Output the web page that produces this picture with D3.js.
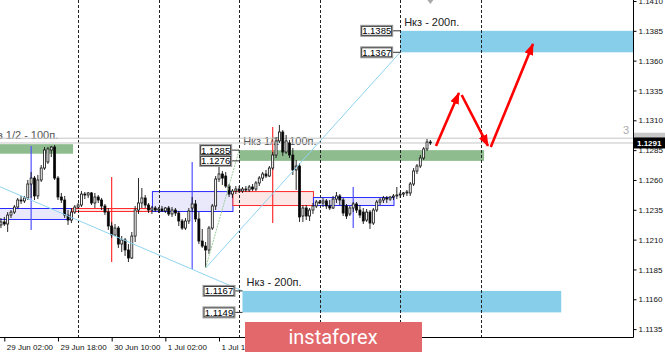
<!DOCTYPE html>
<html>
<head>
<meta charset="utf-8">
<script src="https://cdn.jsdelivr.net/npm/d3@7"></script>
<style>
  body { margin: 0; background: #fff; }
  svg { display: block; font-family: "Liberation Sans", Arial, sans-serif; }
</style>
</head>
<body>
<svg id="chart" width="665" height="353"></svg>
<script>
// EURUSD H1, first bar 29 Jun 01:00, one bar per hour
var firstBar = "2020-06-29 01:00";

var open = [
  1.12223,1.12248,1.12231,1.12306,1.12331,1.12373,1.12432,1.12424,1.12449,1.12566,
  1.12616,1.12466,1.12600,1.12700,1.12751,1.12851,1.12876,1.12616,1.12457,1.12432,
  1.12306,1.12264,1.12331,1.12373,1.12390,1.12482,1.12474,1.12491,1.12407,1.12457,
  1.12432,1.12382,1.12331,1.12214,1.12139,1.12197,1.12063,1.12097,1.12013,1.11946,
  1.12130,1.12348,1.12407,1.12449,1.12390,1.12348,1.12365,1.12348,1.12357,1.12340,
  1.12365,1.12315,1.12348,1.12323,1.12256,1.12197,1.12256,1.12365,1.12399,1.12273,
  1.12088,1.12046,1.12013,1.12197,1.12382,1.12608,1.12650,1.12633,1.12549,1.12482,
  1.12507,1.12524,1.12507,1.12524,1.12516,1.12541,1.12524,1.12575,1.12616,1.12650,
  1.12633,1.12700,1.12809,1.12927,1.13002,1.12834,1.12910,1.12809,1.12684,1.12717,
  1.12298,1.12365,1.12298,1.12348,1.12382,1.12415,1.12407,1.12424,1.12382,1.12365,
  1.12440,1.12466,1.12432,1.12382,1.12315,1.12365,1.12399,1.12348,1.12331,1.12264,
  1.12331,1.12239,1.12348,1.12415,1.12432,1.12449,1.12440,1.12457,1.12466,1.12474,
  1.12482,1.12491,1.12491,1.12566,1.12675,1.12717,1.12784,1.12860,1.12918
];
var high = [
  1.12281,1.12290,1.12331,1.12348,1.12390,1.12449,1.12466,1.12466,1.12600,1.12667,
  1.12633,1.12642,1.12725,1.12876,1.12876,1.12885,1.12893,1.12633,1.12491,1.12466,
  1.12348,1.12365,1.12390,1.12407,1.12507,1.12499,1.12499,1.12499,1.12491,1.12474,
  1.12449,1.12399,1.12365,1.12248,1.12231,1.12214,1.12130,1.12114,1.12063,1.12164,
  1.12382,1.12616,1.12533,1.12474,1.12407,1.12382,1.12382,1.12373,1.12382,1.12373,
  1.12382,1.12373,1.12365,1.12340,1.12273,1.12281,1.12365,1.12457,1.12432,1.12331,
  1.12189,1.12080,1.12214,1.12399,1.12633,1.12742,1.12675,1.12667,1.12566,1.12524,
  1.12549,1.12549,1.12541,1.12549,1.12558,1.12566,1.12591,1.12633,1.12667,1.12684,
  1.12717,1.12834,1.12952,1.13061,1.13019,1.12977,1.12935,1.12868,1.12767,1.12742,
  1.12390,1.12390,1.12365,1.12407,1.12432,1.12432,1.12449,1.12440,1.12432,1.12466,
  1.12499,1.12482,1.12449,1.12399,1.12382,1.12415,1.12415,1.12390,1.12365,1.12357,
  1.12348,1.12365,1.12432,1.12449,1.12466,1.12466,1.12466,1.12482,1.12541,1.12499,
  1.12499,1.12516,1.12583,1.12700,1.12734,1.12809,1.12876,1.12943,1.12935
];
var low = [
  1.12197,1.12214,1.12164,1.12281,1.12315,1.12357,1.12399,1.12407,1.12432,1.12449,
  1.12432,1.12440,1.12583,1.12684,1.12734,1.12792,1.12600,1.12432,1.12407,1.12281,
  1.12223,1.12239,1.12315,1.12357,1.12373,1.12440,1.12449,1.12390,1.12365,1.12407,
  1.12348,1.12306,1.12181,1.12114,1.12130,1.12030,1.11996,1.11963,1.11912,1.11937,
  1.12080,1.12315,1.12365,1.12365,1.12323,1.12315,1.12331,1.12323,1.12331,1.12323,
  1.12298,1.12290,1.12298,1.12214,1.12181,1.12181,1.12231,1.12331,1.12248,1.12063,
  1.12030,1.11862,1.11979,1.12181,1.12348,1.12583,1.12558,1.12533,1.12457,1.12449,
  1.12482,1.12491,1.12491,1.12499,1.12499,1.12507,1.12507,1.12549,1.12591,1.12616,
  1.12625,1.12684,1.12784,1.12910,1.12801,1.12818,1.12784,1.12642,1.12516,1.12248,
  1.12248,1.12264,1.12256,1.12315,1.12365,1.12399,1.12373,1.12357,1.12348,1.12357,
  1.12407,1.12390,1.12298,1.12273,1.12298,1.12331,1.12323,1.12281,1.12231,1.12248,
  1.12189,1.12223,1.12331,1.12390,1.12407,1.12407,1.12424,1.12432,1.12440,1.12449,
  1.12457,1.12466,1.12466,1.12549,1.12650,1.12700,1.12767,1.12843,1.12893
];
var close = [
  1.12248,1.12231,1.12306,1.12331,1.12373,1.12432,1.12424,1.12449,1.12566,1.12616,
  1.12466,1.12600,1.12700,1.12851,1.12860,1.12876,1.12616,1.12457,1.12432,1.12306,
  1.12264,1.12331,1.12373,1.12390,1.12482,1.12474,1.12491,1.12407,1.12457,1.12432,
  1.12382,1.12331,1.12214,1.12139,1.12197,1.12063,1.12097,1.12013,1.11946,1.12130,
  1.12348,1.12407,1.12449,1.12390,1.12348,1.12365,1.12348,1.12357,1.12340,1.12365,
  1.12315,1.12348,1.12323,1.12256,1.12197,1.12256,1.12340,1.12399,1.12273,1.12088,
  1.12046,1.12013,1.12197,1.12382,1.12608,1.12650,1.12616,1.12549,1.12482,1.12507,
  1.12524,1.12507,1.12524,1.12516,1.12541,1.12524,1.12575,1.12616,1.12650,1.12633,
  1.12700,1.12809,1.12927,1.13002,1.12834,1.12927,1.12809,1.12684,1.12717,1.12290,
  1.12365,1.12298,1.12348,1.12382,1.12415,1.12407,1.12424,1.12382,1.12365,1.12440,
  1.12466,1.12432,1.12323,1.12298,1.12365,1.12399,1.12348,1.12306,1.12256,1.12331,
  1.12239,1.12348,1.12415,1.12432,1.12449,1.12440,1.12457,1.12466,1.12474,1.12482,
  1.12491,1.12499,1.12566,1.12675,1.12717,1.12784,1.12860,1.12918,1.12910
];

var askPrice = 1.12950;
var spreadText = "3";

var priceTicks = [1.1410, 1.1385, 1.1360, 1.1335, 1.1310, 1.1285, 1.1260,
                  1.1235, 1.1210, 1.1185, 1.1160, 1.1135];
// later labels sit under the logo and are not visible
var timeTicks = ["2020-06-29 02:00", "2020-06-29 18:00", "2020-06-30 10:00",
                 "2020-07-01 02:00", "2020-07-01 18:00"];
var daySeparators = ["2020-06-30 00:00", "2020-07-01 00:00", "2020-07-02 00:00",
                     "2020-07-03 00:00", "2020-07-04 00:00", "2020-07-05 00:00"];

// daily range boxes: body open/close, line high/low at 10:00
var dayStart = ["2020-06-28 22:00", "2020-06-29 22:00", "2020-06-30 22:00",
                "2020-07-01 22:00", "2020-07-02 22:00"];
var dayOpen  = [1.12273, 1.12365, 1.12340, 1.12507, 1.12390];
var dayClose = [1.12365, 1.12340, 1.12507, 1.12390, 1.12457];
var dayHigh  = [1.12885, 1.12625, 1.12750, 1.13044, 1.12541];
var dayLow   = [1.12181, 1.11912, 1.11854, 1.12239, 1.12197];

// target zones
var zones = [
  {from: "2020-06-28 19:00", to: "2020-06-29 22:30", top: 1.1290, bottom: 1.1282,
   kind: "green", label: "Нкз 1/2 - 100п.", prices: false},
  {from: "2020-07-02 00:00", to: "2020-07-05 01:00", top: 1.1285, bottom: 1.1276,
   kind: "green", label: "Нкз 1/2 - 100п.", prices: true},
  {from: "2020-07-04 00:00", to: "2020-07-08 00:00", top: 1.1385, bottom: 1.1367,
   kind: "blue", label: "Нкз - 200п.", prices: true},
  {from: "2020-07-02 01:00", to: "2020-07-06 00:00", top: 1.1167, bottom: 1.1149,
   kind: "blue", label: "Нкз - 200п.", prices: true}
];

var trendLines = [
  {kind: "blue",  p: [["2020-06-28 20:00", 1.12600], ["2020-07-02 01:00", 1.1167]]},
  {kind: "blue",  p: [["2020-07-01 14:00", 1.11862], ["2020-07-04 00:00", 1.1367]]},
  {kind: "green", p: [["2020-07-01 14:00", 1.11862], ["2020-07-02 00:00", 1.1285]]}
];

var arrows = [
  [["2020-07-04 10:40", 1.12885], ["2020-07-04 17:30", 1.13329]],
  [["2020-07-04 18:20", 1.13312], ["2020-07-05 02:10", 1.12885]],
  [["2020-07-05 03:00", 1.12876], ["2020-07-05 15:35", 1.13740]]
];

var parse = d3.timeParse("%Y-%m-%d %H:%M");
var fmt4 = d3.format(".4f");

var plotR = 633, plotB = 337;

var x = d3.scaleTime()
    .domain([parse("2020-06-29 02:00"), parse("2020-07-05 00:00")])
    .range([4.3, 480.7]);
var y = d3.scaleLinear()
    .domain([1.1135, 1.1410])
    .range([329.1, 1]);

var t0 = parse(firstBar);
var bars = open.map(function(o, i) {
    return {t: d3.timeHour.offset(t0, i), o: o, h: high[i], l: low[i], c: close[i]};
});

var svg = d3.select("#chart");

svg.append("defs").append("clipPath").attr("id", "plotclip")
    .append("rect").attr("x", 0).attr("y", 0).attr("width", plotR).attr("height", plotB);

svg.select("defs").append("marker")
    .attr("id", "head")
    .attr("markerUnits", "userSpaceOnUse")
    .attr("markerWidth", 12).attr("markerHeight", 10)
    .attr("refX", 11).attr("refY", 4.5)
    .attr("orient", "auto")
    .append("path").attr("d", "M0,0 L12,4.5 L0,9 Z").attr("fill", "#ff0000");

var plot = svg.append("g").attr("clip-path", "url(#plotclip)");

// zones
plot.selectAll("rect.zone").data(zones).enter().append("rect")
    .attr("class", "zone")
    .attr("x", function(d) { return x(parse(d.from)); })
    .attr("y", function(d) { return y(d.top); })
    .attr("width", function(d) { return x(parse(d.to)) - x(parse(d.from)); })
    .attr("height", function(d) { return y(d.bottom) - y(d.top); })
    .attr("fill", function(d) { return d.kind == "green" ? "#8fbc8f" : "#87ceeb"; });

// daily boxes
var days = dayStart.map(function(s, i) {
    var st = parse(s);
    return {st: st, en: d3.timeHour.offset(st, 24), mid: d3.timeHour.offset(st, 12),
            o: dayOpen[i], c: dayClose[i], h: dayHigh[i], l: dayLow[i]};
});
var dayCol = function(d) { return d.c >= d.o ? "#2a2aff" : "#ff2a2a"; };
plot.selectAll("rect.day").data(days).enter().append("rect")
    .attr("class", "day")
    .attr("x", function(d) { return x(d.st) + 0.5; })
    .attr("y", function(d) { return y(Math.max(d.o, d.c)) + 0.5; })
    .attr("width", function(d) { return x(d.en) - x(d.st); })
    .attr("height", function(d) { return y(Math.min(d.o, d.c)) - y(Math.max(d.o, d.c)); })
    .attr("fill", function(d) { return d.c >= d.o ? "#e9e9fb" : "#fde6e6"; })
    .attr("stroke", dayCol)
    .attr("stroke-width", 1);
plot.selectAll("line.dayhl").data(days).enter().append("line")
    .attr("class", "dayhl")
    .attr("x1", function(d) { return x(d.mid); })
    .attr("x2", function(d) { return x(d.mid); })
    .attr("y1", function(d) { return y(d.h); })
    .attr("y2", function(d) { return y(d.l); })
    .attr("stroke", function(d) { return d.c >= d.o ? "#5050ff" : "#ff3030"; })
    .attr("stroke-width", 1.2);

// zone captions
plot.selectAll("text.zlabel").data(zones).enter().append("text")
    .attr("class", "zlabel")
    .attr("x", function(d) { return x(parse(d.from)) + 4; })
    .attr("y", function(d) { return y(d.top) - 5; })
    .attr("font-size", 11)
    .attr("fill", function(d) { return d.kind == "green" ? "#555" : "#222"; })
    .text(function(d) { return d.label; });

// day separators
plot.selectAll("line.sep").data(daySeparators).enter().append("line")
    .attr("class", "sep")
    .attr("x1", function(d) { return Math.round(x(parse(d))) + 0.5; })
    .attr("x2", function(d) { return Math.round(x(parse(d))) + 0.5; })
    .attr("y1", 0).attr("y2", plotB)
    .attr("stroke", "#222")
    .attr("stroke-dasharray", "3,2")
    .attr("stroke-width", 1);

// bid / ask lines
var bid = close[close.length - 1];
[askPrice, bid].forEach(function(p) {
    plot.append("line")
        .attr("x1", 0).attr("x2", plotR)
        .attr("y1", y(p)).attr("y2", y(p))
        .attr("stroke", "#c4c4c4").attr("stroke-width", 1);
});

// candles
var bw = 2;
var cg = plot.append("g");
cg.selectAll("line.wick").data(bars).enter().append("line")
    .attr("class", "wick")
    .attr("x1", function(d) { return x(d.t); })
    .attr("x2", function(d) { return x(d.t); })
    .attr("y1", function(d) { return y(d.h); })
    .attr("y2", function(d) { return y(d.l); })
    .attr("stroke", "#111").attr("stroke-width", 0.9);
cg.selectAll("rect.body").data(bars).enter().append("rect")
    .attr("class", "body")
    .attr("x", function(d) { return x(d.t) - bw / 2; })
    .attr("y", function(d) { return y(Math.max(d.o, d.c)); })
    .attr("width", bw)
    .attr("height", function(d) { return Math.max(0.8, Math.abs(y(d.o) - y(d.c))); })
    .attr("fill", function(d) { return d.c >= d.o ? "#ffffff" : "#000000"; })
    .attr("stroke", "#111")
    .attr("stroke-width", 0.8);

// trend lines
plot.selectAll("line.trend").data(trendLines).enter().append("line")
    .attr("class", "trend")
    .attr("x1", function(d) { return x(parse(d.p[0][0])); })
    .attr("y1", function(d) { return y(d.p[0][1]); })
    .attr("x2", function(d) { return x(parse(d.p[1][0])); })
    .attr("y2", function(d) { return y(d.p[1][1]); })
    .attr("stroke", function(d) { return d.kind == "green" ? "#9acd9a" : "#8fd3f0"; })
    .attr("stroke-dasharray", function(d) { return d.kind == "green" ? "2,1" : null; })
    .attr("stroke-width", 1);

// forecast arrows
plot.selectAll("line.arrow").data(arrows).enter().append("line")
    .attr("class", "arrow")
    .attr("x1", function(d) { return x(parse(d[0][0])); })
    .attr("y1", function(d) { return y(d[0][1]); })
    .attr("x2", function(d) { return x(parse(d[1][0])); })
    .attr("y2", function(d) { return y(d[1][1]); })
    .attr("stroke", "#ff0000")
    .attr("stroke-width", 2.6)
    .attr("marker-end", "url(#head)");

// price tags at zone edges
var tags = [];
zones.forEach(function(z) {
    if (z.prices) {
        tags.push({t: z.from, p: z.top});
        tags.push({t: z.from, p: z.bottom});
    }
});
var tg = plot.selectAll("g.tag").data(tags).enter().append("g")
    .attr("class", "tag")
    .attr("transform", function(d) {
        return "translate(" + x(parse(d.t)) + "," + y(d.p) + ")";
    });
tg.append("line").attr("x1", -8).attr("x2", 0).attr("y1", 0).attr("y2", 0)
    .attr("stroke", "#333").attr("stroke-width", 1);
tg.append("rect").attr("x", -39.5).attr("y", -5.5).attr("width", 32).attr("height", 11)
    .attr("fill", "#fff").attr("stroke", "#999").attr("stroke-width", 1);
tg.append("rect").attr("x", -38.5).attr("y", -4.5).attr("width", 30).attr("height", 9)
    .attr("fill", "none").attr("stroke", "#333").attr("stroke-width", 1);
tg.append("text").attr("x", -23.5).attr("y", 3.5)
    .attr("text-anchor", "middle").attr("font-size", 9.5).attr("fill", "#000")
    .text(function(d) { return fmt4(d.p); });

// chart shift marker at top
plot.append("path")
    .attr("d", "M" + (x(parse("2020-07-04 09:00")) - 3) + ",0 l6,0 l-3,4 z")
    .attr("fill", "#aaa");

// frame
svg.append("line").attr("x1", plotR + 0.5).attr("x2", plotR + 0.5)
    .attr("y1", 0).attr("y2", plotB + 0.5).attr("stroke", "#000");
svg.append("line").attr("x1", 0).attr("x2", plotR + 0.5)
    .attr("y1", plotB + 0.5).attr("y2", plotB + 0.5).attr("stroke", "#000");

// price axis
var yAxis = d3.axisRight(y).tickValues(priceTicks).tickSize(3).tickPadding(2)
    .tickFormat(fmt4);
var ya = svg.append("g").attr("transform", "translate(" + (plotR + 0.5) + ",0)").call(yAxis);
ya.select(".domain").remove();
ya.selectAll("text").attr("font-size", 8).attr("font-family", "Liberation Sans, Arial, sans-serif")
    .attr("fill", "#111");
ya.selectAll("line").attr("stroke", "#000");

// time axis
var xAxis = d3.axisBottom(x).tickValues(timeTicks.map(parse)).tickSize(4).tickPadding(3)
    .tickFormat(d3.timeFormat("%-d %b %H:%M"));
var xa = svg.append("g").attr("transform", "translate(0," + (plotB + 0.5) + ")").call(xAxis);
xa.select(".domain").remove();
xa.selectAll("text").attr("font-size", 8).attr("font-family", "Liberation Sans, Arial, sans-serif")
    .attr("text-anchor", "start").attr("dx", 2).attr("fill", "#111");
xa.selectAll("line").attr("stroke", "#000");

// spread and bid / ask tags on the price axis (ask tag hidden behind the bid tag)
svg.append("text").attr("x", 623).attr("y", y(askPrice) - 4)
    .attr("font-size", 11).attr("fill", "#aaa").text(spreadText);
svg.append("rect").attr("x", plotR + 1).attr("y", y(askPrice) - 5.5)
    .attr("width", 32).attr("height", 11).attr("fill", "#c8c8c8");
svg.append("rect").attr("x", plotR + 1).attr("y", y(bid) - 5.5)
    .attr("width", 32).attr("height", 11).attr("fill", "#000");
svg.append("text").attr("x", plotR + 4).attr("y", y(bid) + 3)
    .attr("font-size", 8).attr("font-weight", "bold").attr("fill", "#fff").text(fmt4(bid));

// logo
svg.append("rect").attr("x", 245).attr("y", 322).attr("width", 177).attr("height", 30)
    .attr("fill", "#e3686c");
svg.append("text").attr("x", 333).attr("y", 344)
    .attr("text-anchor", "middle").attr("font-family", "Roboto, 'Open Sans', sans-serif")
    .attr("font-size", 20).attr("fill", "#fff").text("instaforex");
</script>
</body>
</html>
